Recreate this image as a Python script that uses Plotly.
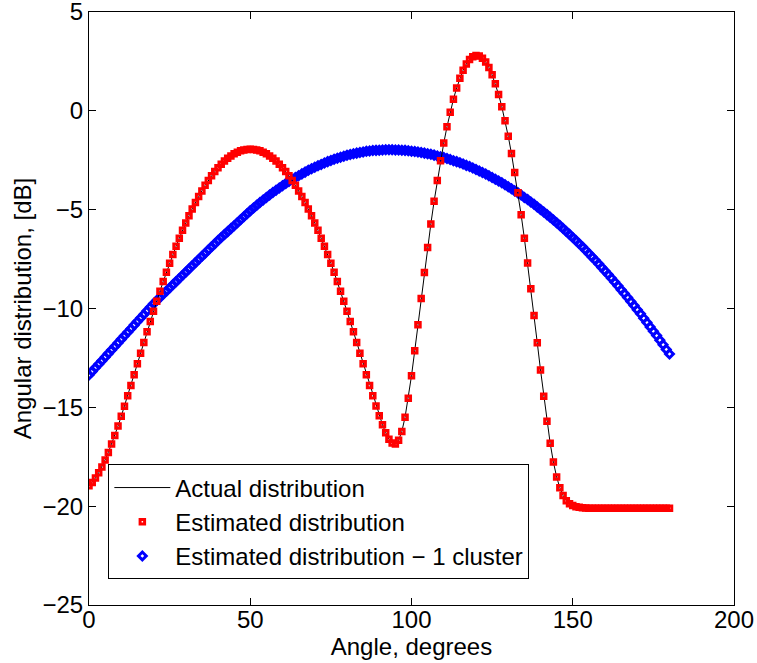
import plotly.graph_objects as go

# Angle grid, one sample per degree
angle_deg = list(range(0, 181))

# Actual angular power distribution, dB
actual_db = [
    -18.97, -18.80, -18.58, -18.31, -18.02, -17.66, -17.28, -16.86, -16.42, -15.95,
    -15.45, -14.94, -14.42, -13.89, -13.35, -12.80, -12.26, -11.72, -11.18, -10.66,
    -10.14, -9.63, -9.13, -8.64, -8.17, -7.71, -7.27, -6.85, -6.44, -6.04,
    -5.67, -5.31, -4.96, -4.64, -4.33, -4.05, -3.77, -3.52, -3.29, -3.07,
    -2.88, -2.70, -2.54, -2.40, -2.28, -2.17, -2.09, -2.02, -1.98, -1.95,
    -1.94, -1.95, -1.98, -2.02, -2.09, -2.17, -2.28, -2.40, -2.54, -2.70,
    -2.88, -3.07, -3.29, -3.52, -3.77, -4.05, -4.33, -4.64, -4.96, -5.31,
    -5.67, -6.04, -6.44, -6.85, -7.27, -7.71, -8.17, -8.64, -9.13, -9.63,
    -10.14, -10.66, -11.18, -11.72, -12.26, -12.80, -13.35, -13.89, -14.42, -14.93,
    -15.42, -15.88, -16.28, -16.61, -16.81, -16.85, -16.67, -16.22, -15.50, -14.54,
    -13.40, -12.14, -10.82, -9.49, -8.18, -6.92, -5.72, -4.58, -3.52, -2.53,
    -1.63, -0.81, -0.07, 0.59, 1.16, 1.65, 2.05, 2.37, 2.60, 2.74,
    2.80, 2.78, 2.66, 2.47, 2.19, 1.82, 1.37, 0.83, 0.21, -0.50,
    -1.29, -2.16, -3.12, -4.15, -5.26, -6.45, -7.70, -9.00, -10.36, -11.73,
    -13.11, -14.44, -15.70, -16.82, -17.77, -18.52, -19.07, -19.46, -19.72, -19.88,
    -19.97, -20.03, -20.06, -20.08, -20.09, -20.10, -20.10, -20.10, -20.10, -20.10,
    -20.10, -20.10, -20.10, -20.10, -20.10, -20.10, -20.10, -20.10, -20.10, -20.10,
    -20.10, -20.10, -20.10, -20.10, -20.10, -20.10, -20.10, -20.10, -20.10, -20.10,
    -20.10,
]

# Two-cluster estimate coincides with the actual distribution
estimated_db = list(actual_db)

# Single-cluster estimate, dB
one_cluster_db = [
    -13.36, -13.18, -13.00, -12.82, -12.64, -12.46, -12.28, -12.10, -11.92, -11.74,
    -11.56, -11.38, -11.20, -11.02, -10.84, -10.66, -10.48, -10.30, -10.12, -9.94,
    -9.76, -9.60, -9.44, -9.28, -9.12, -8.96, -8.80, -8.64, -8.48, -8.32,
    -8.16, -8.00, -7.84, -7.68, -7.52, -7.36, -7.20, -7.04, -6.88, -6.72,
    -6.56, -6.41, -6.26, -6.11, -5.96, -5.81, -5.66, -5.51, -5.36, -5.21,
    -5.06, -4.92, -4.78, -4.64, -4.51, -4.38, -4.26, -4.13, -4.02, -3.90,
    -3.79, -3.68, -3.57, -3.47, -3.37, -3.28, -3.19, -3.10, -3.01, -2.93,
    -2.85, -2.78, -2.71, -2.64, -2.57, -2.51, -2.45, -2.40, -2.35, -2.30,
    -2.25, -2.21, -2.17, -2.14, -2.11, -2.08, -2.05, -2.03, -2.01, -2.00,
    -1.99, -1.98, -1.97, -1.97, -1.97, -1.98, -1.98, -1.99, -2.00, -2.02,
    -2.04, -2.06, -2.08, -2.11, -2.14, -2.17, -2.20, -2.24, -2.28, -2.32,
    -2.36, -2.41, -2.46, -2.52, -2.57, -2.63, -2.69, -2.76, -2.82, -2.89,
    -2.97, -3.04, -3.12, -3.20, -3.28, -3.37, -3.46, -3.55, -3.64, -3.74,
    -3.84, -3.94, -4.05, -4.15, -4.26, -4.38, -4.49, -4.61, -4.73, -4.86,
    -4.99, -5.12, -5.25, -5.38, -5.52, -5.66, -5.80, -5.95, -6.10, -6.25,
    -6.41, -6.56, -6.72, -6.88, -7.05, -7.22, -7.39, -7.56, -7.74, -7.92,
    -8.10, -8.28, -8.47, -8.66, -8.85, -9.05, -9.24, -9.44, -9.65, -9.85,
    -10.06, -10.27, -10.49, -10.71, -10.93, -11.15, -11.37, -11.60, -11.83, -12.07,
    -12.30,
]

x_ticks = [0, 50, 100, 150, 200]
y_ticks = [-25, -20, -15, -10, -5, 0, 5]

FONT = "Liberation Sans, Arial, Helvetica, sans-serif"
FS = 24

fig = go.Figure()

fig.add_trace(go.Scatter(
    x=angle_deg, y=one_cluster_db, mode="markers",
    name="Estimated distribution \u2212 1 cluster", legendrank=3,
    marker=dict(symbol="diamond-open", size=6, color="#0000ff",
                line=dict(width=3, color="#0000ff")),
))
fig.add_trace(go.Scatter(
    x=angle_deg, y=actual_db, mode="lines",
    name="Actual distribution", legendrank=1,
    line=dict(color="black", width=1),
))
fig.add_trace(go.Scatter(
    x=angle_deg, y=estimated_db, mode="markers",
    name="Estimated distribution", legendrank=2,
    marker=dict(symbol="square-open", size=4.5, color="#ff0000",
                line=dict(width=3, color="#ff0000")),
))

axis_common = dict(
    showline=True, linecolor="black", linewidth=1, mirror="ticks",
    ticks="inside", ticklen=7, tickwidth=1, tickcolor="black",
    showgrid=False, zeroline=False, ticklabeloverflow="allow",
    automargin=False,
    tickfont=dict(family=FONT, size=FS, color="black"),
)

fig.update_layout(
    width=757, height=663,
    margin=dict(l=89, r=23, t=12, b=58, pad=0),
    paper_bgcolor="white", plot_bgcolor="white",
    font=dict(family=FONT, size=FS, color="black"),
    xaxis=dict(range=[0, 200], tickvals=x_ticks, ticklabelstandoff=-7,
               title=dict(text="Angle, degrees", standoff=0,
                          font=dict(family=FONT, size=FS, color="black")),
               **axis_common),
    yaxis=dict(range=[-25, 5], tickvals=y_ticks,
               title=dict(text="Angular distribution, [dB]", standoff=4,
                          font=dict(family=FONT, size=FS, color="black")),
               **axis_common),
    legend=dict(x=0.03, y=0.237, xanchor="left", yanchor="top",
                bgcolor="white", bordercolor="black", borderwidth=1,
                font=dict(family=FONT, size=FS, color="black"),
                itemwidth=56),
    showlegend=True,
)

fig.write_html("out.html")
